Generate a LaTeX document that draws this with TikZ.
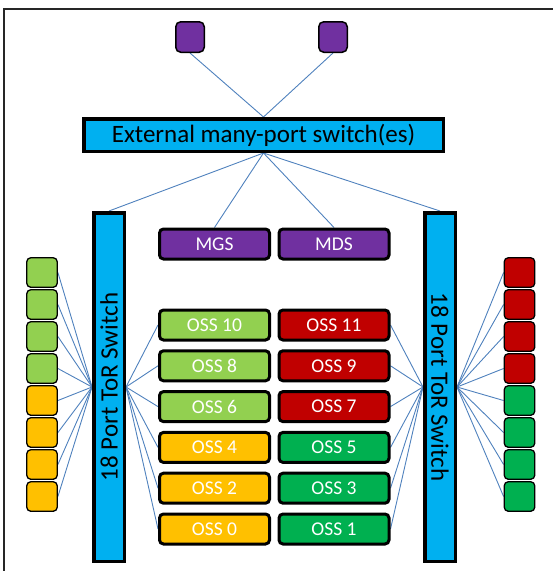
\documentclass[tikz,border=0pt]{standalone}
\usepackage{fontspec}
\setmainfont{Carlito}
\usetikzlibrary{backgrounds}
\definecolor{sky}{HTML}{00B0F0}
\definecolor{plum}{HTML}{7030A0}
\definecolor{lime}{HTML}{92D050}
\definecolor{amber}{HTML}{FFC000}
\definecolor{crimson}{HTML}{C00000}
\definecolor{emerald}{HTML}{00B050}
\definecolor{wire}{HTML}{4F81BD}

\begin{document}
\begin{tikzpicture}[x=1pt,y=-1pt,
  wire/.style={draw=wire, line width=0.9pt},
  server/.style={draw=black, line width=3pt, rounded corners=4pt,
    minimum width=110pt, minimum height=30pt, inner sep=0pt,
    text=white, font=\fontsize{19.5}{19.5}\selectfont},
  disk/.style={draw=black, line width=1.3pt, rounded corners=4pt,
    minimum width=30.5pt, minimum height=29.5pt, inner sep=0pt},
  client/.style={draw=black, line width=1.5pt, rounded corners=5pt, fill=plum,
    minimum width=28.5pt, minimum height=30.5pt, inner sep=0pt},
  switchbar/.style={draw=black, line width=3.5pt, fill=sky, inner sep=0pt,
    font=\fontsize{25}{25}\selectfont},
]
\useasboundingbox (0,0) rectangle (553,571);

% open frame: left and top edges
\draw[line width=2pt, black!85] (4,571) -- (4,9) -- (553,9);

% clients on top
\node[client] (c1) at (190,37) {};
\node[client] (c2) at (333,37) {};

% external switch
\node[switchbar, minimum width=359.5pt, minimum height=32.5pt] (ext) at (263.5,135)
  {External many-port switch(es)};

% top-of-rack switches
\node[switchbar, rotate=90, minimum width=348.5pt, minimum height=30.5pt] (ltor) at (109,387)
  {18 Port ToR Switch};
\node[switchbar, rotate=-90, minimum width=348.5pt, minimum height=30.5pt] (rtor) at (440,387)
  {18 Port ToR Switch};

% management and metadata servers
\node[server, fill=plum] (mgs) at (214.5,244) {MGS};
\node[server, fill=plum] (mds) at (334,244) {MDS};

% object storage servers
\foreach \i/\n/\c in {0/10/lime,1/8/lime,2/6/lime,3/4/amber,4/2/amber,5/0/amber}
  \node[server, fill=\c] (oss\n) at (214.5,{325+40.8*\i}) {OSS \n};
\foreach \i/\n/\c in {0/11/crimson,1/9/crimson,2/7/crimson,3/5/emerald,4/3/emerald,5/1/emerald}
  \node[server, fill=\c] (oss\n) at (334,{325+40.8*\i}) {OSS \n};

% disk enclosures
\foreach \i/\c in {0/lime,1/lime,2/lime,3/lime,4/amber,5/amber,6/amber,7/amber}
  \node[disk, fill=\c] (ld\i) at (42,{272.5+32*\i}) {};
\foreach \i/\c in {0/crimson,1/crimson,2/crimson,3/crimson,4/emerald,5/emerald,6/emerald,7/emerald}
  \node[disk, fill=\c] (rd\i) at (519.5,{272.5+32*\i}) {};

% links
\begin{scope}[on background layer]
  \draw[wire] (c1.south) -- (ext.north);
  \draw[wire] (c2.south) -- (ext.north);
  \draw[wire] (ext.south) -- (ltor.east);
  \draw[wire] (ext.south) -- (mgs.north);
  \draw[wire] (ext.south) -- (mds.north);
  \draw[wire] (ext.south) -- (rtor.west);
  \foreach \n in {10,8,6,4,2,0}
    \draw[wire] (ltor.south) -- (oss\n.west);
  \foreach \n in {11,9,7,5,3,1}
    \draw[wire] (oss\n.east) -- (rtor.south);
  \foreach \i in {0,...,7} {
    \draw[wire] (ld\i.east) -- (ltor.north);
    \draw[wire] (rtor.north) -- (rd\i.west);
  }
\end{scope}
\end{tikzpicture}
\end{document}
